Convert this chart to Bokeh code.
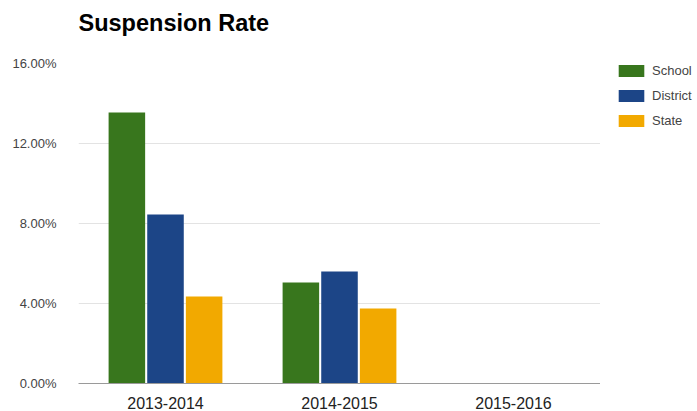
from bokeh.plotting import figure
from bokeh.layouts import row
from bokeh.models import (ColumnDataSource, FactorRange, FixedTicker, PrintfTickFormatter,
                          Legend, LegendItem, Title)
from bokeh.transform import dodge
from bokeh.embed import file_html
from bokeh.resources import INLINE

years = ["2013-2014", "2014-2015", "2015-2016"]
school = [13.55, 5.05, 0.0]
district = [8.45, 5.6, 0.0]
state = [4.35, 3.75, 0.0]
y_ticks = [0, 4, 8, 12, 16]

series = [("School", school, "#38761d"),
          ("District", district, "#1c4587"),
          ("State", state, "#f2a900")]
offsets = [-0.222, 0.0, 0.222]

src = ColumnDataSource(dict(year=years, School=school, District=district, State=state))

p = figure(x_range=FactorRange(*years, range_padding=0), y_range=(0, 16),
           frame_width=522, frame_height=320, output_backend="svg", toolbar_location=None,
           min_border_left=78, min_border_right=0, min_border_top=63, min_border_bottom=28,
           outline_line_color=None)

for (name, vals, color), off in zip(series, offsets):
    p.vbar(x=dodge("year", off, range=p.x_range), top=name, width=0.21, source=src,
           fill_color=color, line_color=None)

# spacer (closest to frame) then the real title above it
spacer = Title(text=" ", align="left", standoff=4, text_font="Liberation Sans",
               text_font_size="10px")
p.add_layout(spacer, "above")
title = Title(text="Suspension Rate", align="left", offset=0, standoff=17,
              vertical_align="top",
              text_font="Liberation Sans", text_font_size="23.5px", text_font_style="bold",
              text_color="#000000")
p.add_layout(title, "above")

p.yaxis.ticker = FixedTicker(ticks=y_ticks)
p.yaxis.formatter = PrintfTickFormatter(format="%.2f%%")
p.yaxis.axis_line_color = None
p.yaxis.major_tick_line_color = None
p.yaxis.minor_tick_line_color = None
p.yaxis.major_label_standoff = 16
p.yaxis.major_label_text_font = "Liberation Sans"
p.yaxis.major_label_text_font_size = "13px"
p.yaxis.major_label_text_color = "#444444"

p.xaxis.axis_line_color = "#9a9a9a"
p.xaxis.axis_line_width = 1
p.xaxis.major_tick_line_color = None
p.xaxis.minor_tick_line_color = None
p.xaxis.major_label_standoff = 7
p.xaxis.major_label_text_font = "Liberation Sans"
p.xaxis.major_label_text_font_size = "16px"
p.xaxis.major_label_text_color = "#222222"

p.xgrid.grid_line_color = None
p.ygrid.grid_line_color = "#e3e3e3"
p.ygrid.ticker = FixedTicker(ticks=y_ticks)

# legend panel to the right of the chart (hidden copies of the series for legend swatches)
lg = figure(width=97, height=411, output_backend="svg", toolbar_location=None,
            x_axis_location=None, y_axis_location=None, outline_line_color=None,
            min_border_left=0, min_border_right=0, min_border_top=0, min_border_bottom=0,
            x_range=FactorRange(*years, range_padding=0), y_range=(0, 16))
lg.grid.grid_line_color = None
items = []
for (name, vals, color), off in zip(series, offsets):
    r = lg.vbar(x=dodge("year", off, range=lg.x_range), top=name, width=0.21, source=src,
                fill_color=color, line_color=None, visible=False)
    items.append(LegendItem(label=name, renderers=[r]))

legend = Legend(items=items, location=(15, 255), orientation="vertical",
                glyph_width=32, glyph_height=15, label_height=15,
                label_standoff=5, click_policy="none",
                spacing=10, padding=0, margin=0, border_line_color=None,
                background_fill_alpha=0,
                label_text_font="Liberation Sans", label_text_font_size="13px",
                label_text_color="#444444")
lg.add_layout(legend, "center")

layout = row(p, lg, spacing=0)
open("out.html", "w").write(file_html(layout, INLINE))
